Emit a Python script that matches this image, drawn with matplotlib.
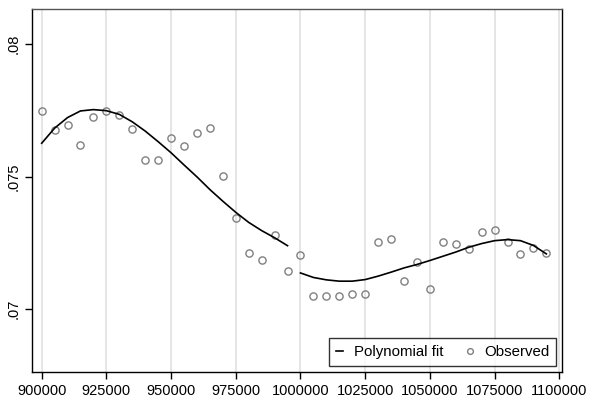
import numpy as np
import matplotlib
matplotlib.use('Agg')
import matplotlib.pyplot as plt

plt.rcParams['font.family'] = ['Liberation Sans', 'DejaVu Sans']

# observed bins (every 5000)
x_obs = list(range(900000, 1100000, 5000))
y_obs = [.07748, .07677, .07695, .07619, .07726, .07749, .07734, .07679, .07562, .07562,
         .07645, .07616, .07664, .07685, .07503, .07342, .07212, .07184, .07280, .07145,
         .07204, .07049, .07049, .07049, .07058, .07058, .07254, .07266, .07107, .07178,
         .07076, .07253, .07246, .07227, .07291, .07300, .07252, .07209, .07231, .07210]

# polynomial fit, left and right of the cutoff
x_fit_left = list(range(900000, 1000000, 5000))
y_fit_left = [.07626, .07683, .07723, .07748, .07753, .07749, .07735, .07707, .07672, .07632,
              .07590, .07544, .07499, .07451, .07407, .07365, .07327, .07296, .07269, .07239]
x_fit_right = list(range(1000000, 1100000, 5000))
y_fit_right = [.07136, .07119, .07110, .07105, .07105, .07111, .07124, .07139, .07155, .07168,
               .07183, .07199, .07215, .07233, .07247, .07258, .07262, .07258, .07240, .07208]

x_ticks = list(range(900000, 1100001, 25000))
y_ticks = [.07, .075, .08]
y_labels = ['.07', '.075', '.08']

fig = plt.figure(figsize=(5.9, 3.97), dpi=100)
ax = fig.add_axes([0.0547, 0.0637, 0.8973, 0.9136])

for xt in x_ticks:
    ax.axvline(xt, color='#dedede', lw=1.1, zorder=0)

ax.plot(x_fit_left, y_fit_left, color='black', lw=1.2, label='Polynomial fit', zorder=3)
ax.plot(x_fit_right, y_fit_right, color='black', lw=1.2, zorder=3)
ax.plot(x_obs, y_obs, 'o', mfc='none', mec='#808080', mew=1.0, ms=5.2,
        label='Observed', zorder=2)

ax.set_xlim(896368, 1100928)
ax.set_ylim(0.06763, 0.08133)
ax.set_xticks(x_ticks)
ax.set_xticklabels([str(v) for v in x_ticks], fontsize=10.5)
ax.set_yticks(y_ticks)
ax.set_yticklabels(y_labels, fontsize=10.5, rotation=90, va='center')
ax.tick_params(direction='out', length=5, width=1, color='black')

for s in ax.spines.values():
    s.set_color('black')
    s.set_linewidth(1.0)
ax.spines['top'].set_color('#555555')

leg = ax.legend(loc='lower right', ncol=2, fontsize=10.8, frameon=True, fancybox=False,
                handlelength=0.5, handletextpad=0.7, columnspacing=1.5, markerscale=0.8,
                borderpad=0.45, borderaxespad=0, bbox_to_anchor=(0.989, 0.016))
leg.get_frame().set_edgecolor('black')
leg.get_frame().set_linewidth(1.0)

fig.savefig('out.png', dpi=100)
